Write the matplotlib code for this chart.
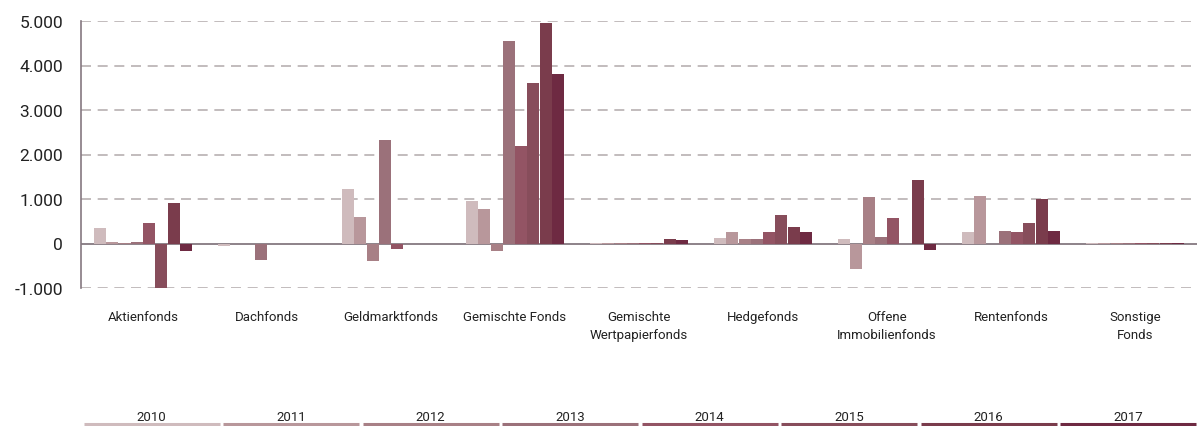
import matplotlib
matplotlib.use("Agg")
import matplotlib.pyplot as plt
import numpy as np

categories = ["Aktienfonds", "Dachfonds", "Geldmarktfonds", "Gemischte Fonds",
              "Gemischte\nWertpapierfonds", "Hedgefonds", "Offene\nImmobilienfonds",
              "Rentenfonds", "Sonstige\nFonds"]
years = ["2010", "2011", "2012", "2013", "2014", "2015", "2016", "2017"]

v2010 = [340, -60, 1230, 960, 5, 120, 100, 260, 5]
v2011 = [25, -10, 600, 780, 5, 260, -570, 1070, 5]
v2012 = [5, -15, -390, -170, 5, 100, 1050, -15, 5]
v2013 = [25, -360, 2330, 4560, 5, 100, 150, 280, 5]
v2014 = [450, -10, -120, 2190, 10, 260, 580, 260, 5]
v2015 = [-1010, -10, -10, 3610, 10, 640, -15, 460, 5]
v2016 = [910, -10, -10, 4960, 100, 370, 1430, 1000, 5]
v2017 = [-170, -10, -10, 3810, 80, 260, -140, 280, 5]
series = [v2010, v2011, v2012, v2013, v2014, v2015, v2016, v2017]

colors = ["#CFBBBD", "#B8979B", "#A88086", "#9B717A",
          "#935464", "#874D5B", "#7A3C4C", "#6E2A42"]

yticks = [-1000, 0, 1000, 2000, 3000, 4000, 5000]
ytick_labels = ["-1.000", "0", "1.000", "2.000", "3.000", "4.000", "5.000"]

W, H = 1197, 427
fig = plt.figure(figsize=(W / 100, H / 100), dpi=100)
ax = fig.add_axes([81 / W, 1 - 289 / H, (1197 - 81) / W, (289 - 22) / H])

font = "Roboto"
x = np.arange(len(categories))
group = 0.79
bw = group / len(years)
for i, (vals, c) in enumerate(zip(series, colors)):
    ax.bar(x - group / 2 + bw * (i + 0.5), vals, width=bw * 0.98, color=c,
           zorder=3, linewidth=0)

ax.set_xlim(-0.5, len(categories) - 0.5)
ax.set_ylim(-1000, 5000)
ax.set_yticks(yticks)
ax.set_yticklabels(ytick_labels, fontsize=12.5, family=font, color="#222222")
for y in yticks:
    if y == 0:
        ax.axhline(0, color="#857880", lw=1.3, zorder=2)
    else:
        ax.axhline(y, color="#b8b0b2", lw=1.2, ls=(0, (6, 4)), zorder=1)

ax.set_xticks(x)
ax.set_xticklabels(categories, fontsize=9.5, family=font, color="#222222",
                   linespacing=1.45, va="top")
ax.tick_params(axis="x", length=0, pad=16)
ax.tick_params(axis="y", length=0, pad=13)
for s in ["top", "right", "bottom"]:
    ax.spines[s].set_visible(False)
ax.spines["left"].set_color("#857880")
ax.spines["left"].set_linewidth(1.2)

# Legend: year labels above coloured lines
lax = fig.add_axes([82 / W, 0, (1198 - 82) / W, 22 / H])
lax.set_xlim(0, len(years))
lax.set_ylim(0, 1)
lax.axis("off")
for i, (yr, c) in enumerate(zip(years, colors)):
    lax.plot([i + 0.012, i + 0.988], [0.1, 0.1], color=c, lw=2.2,
             solid_capstyle="butt")
    lax.text(i + 0.5, 0.15, yr, ha="center", va="bottom", fontsize=9.5,
             family=font, color="#222222")

fig.savefig("out.png", dpi=100)
